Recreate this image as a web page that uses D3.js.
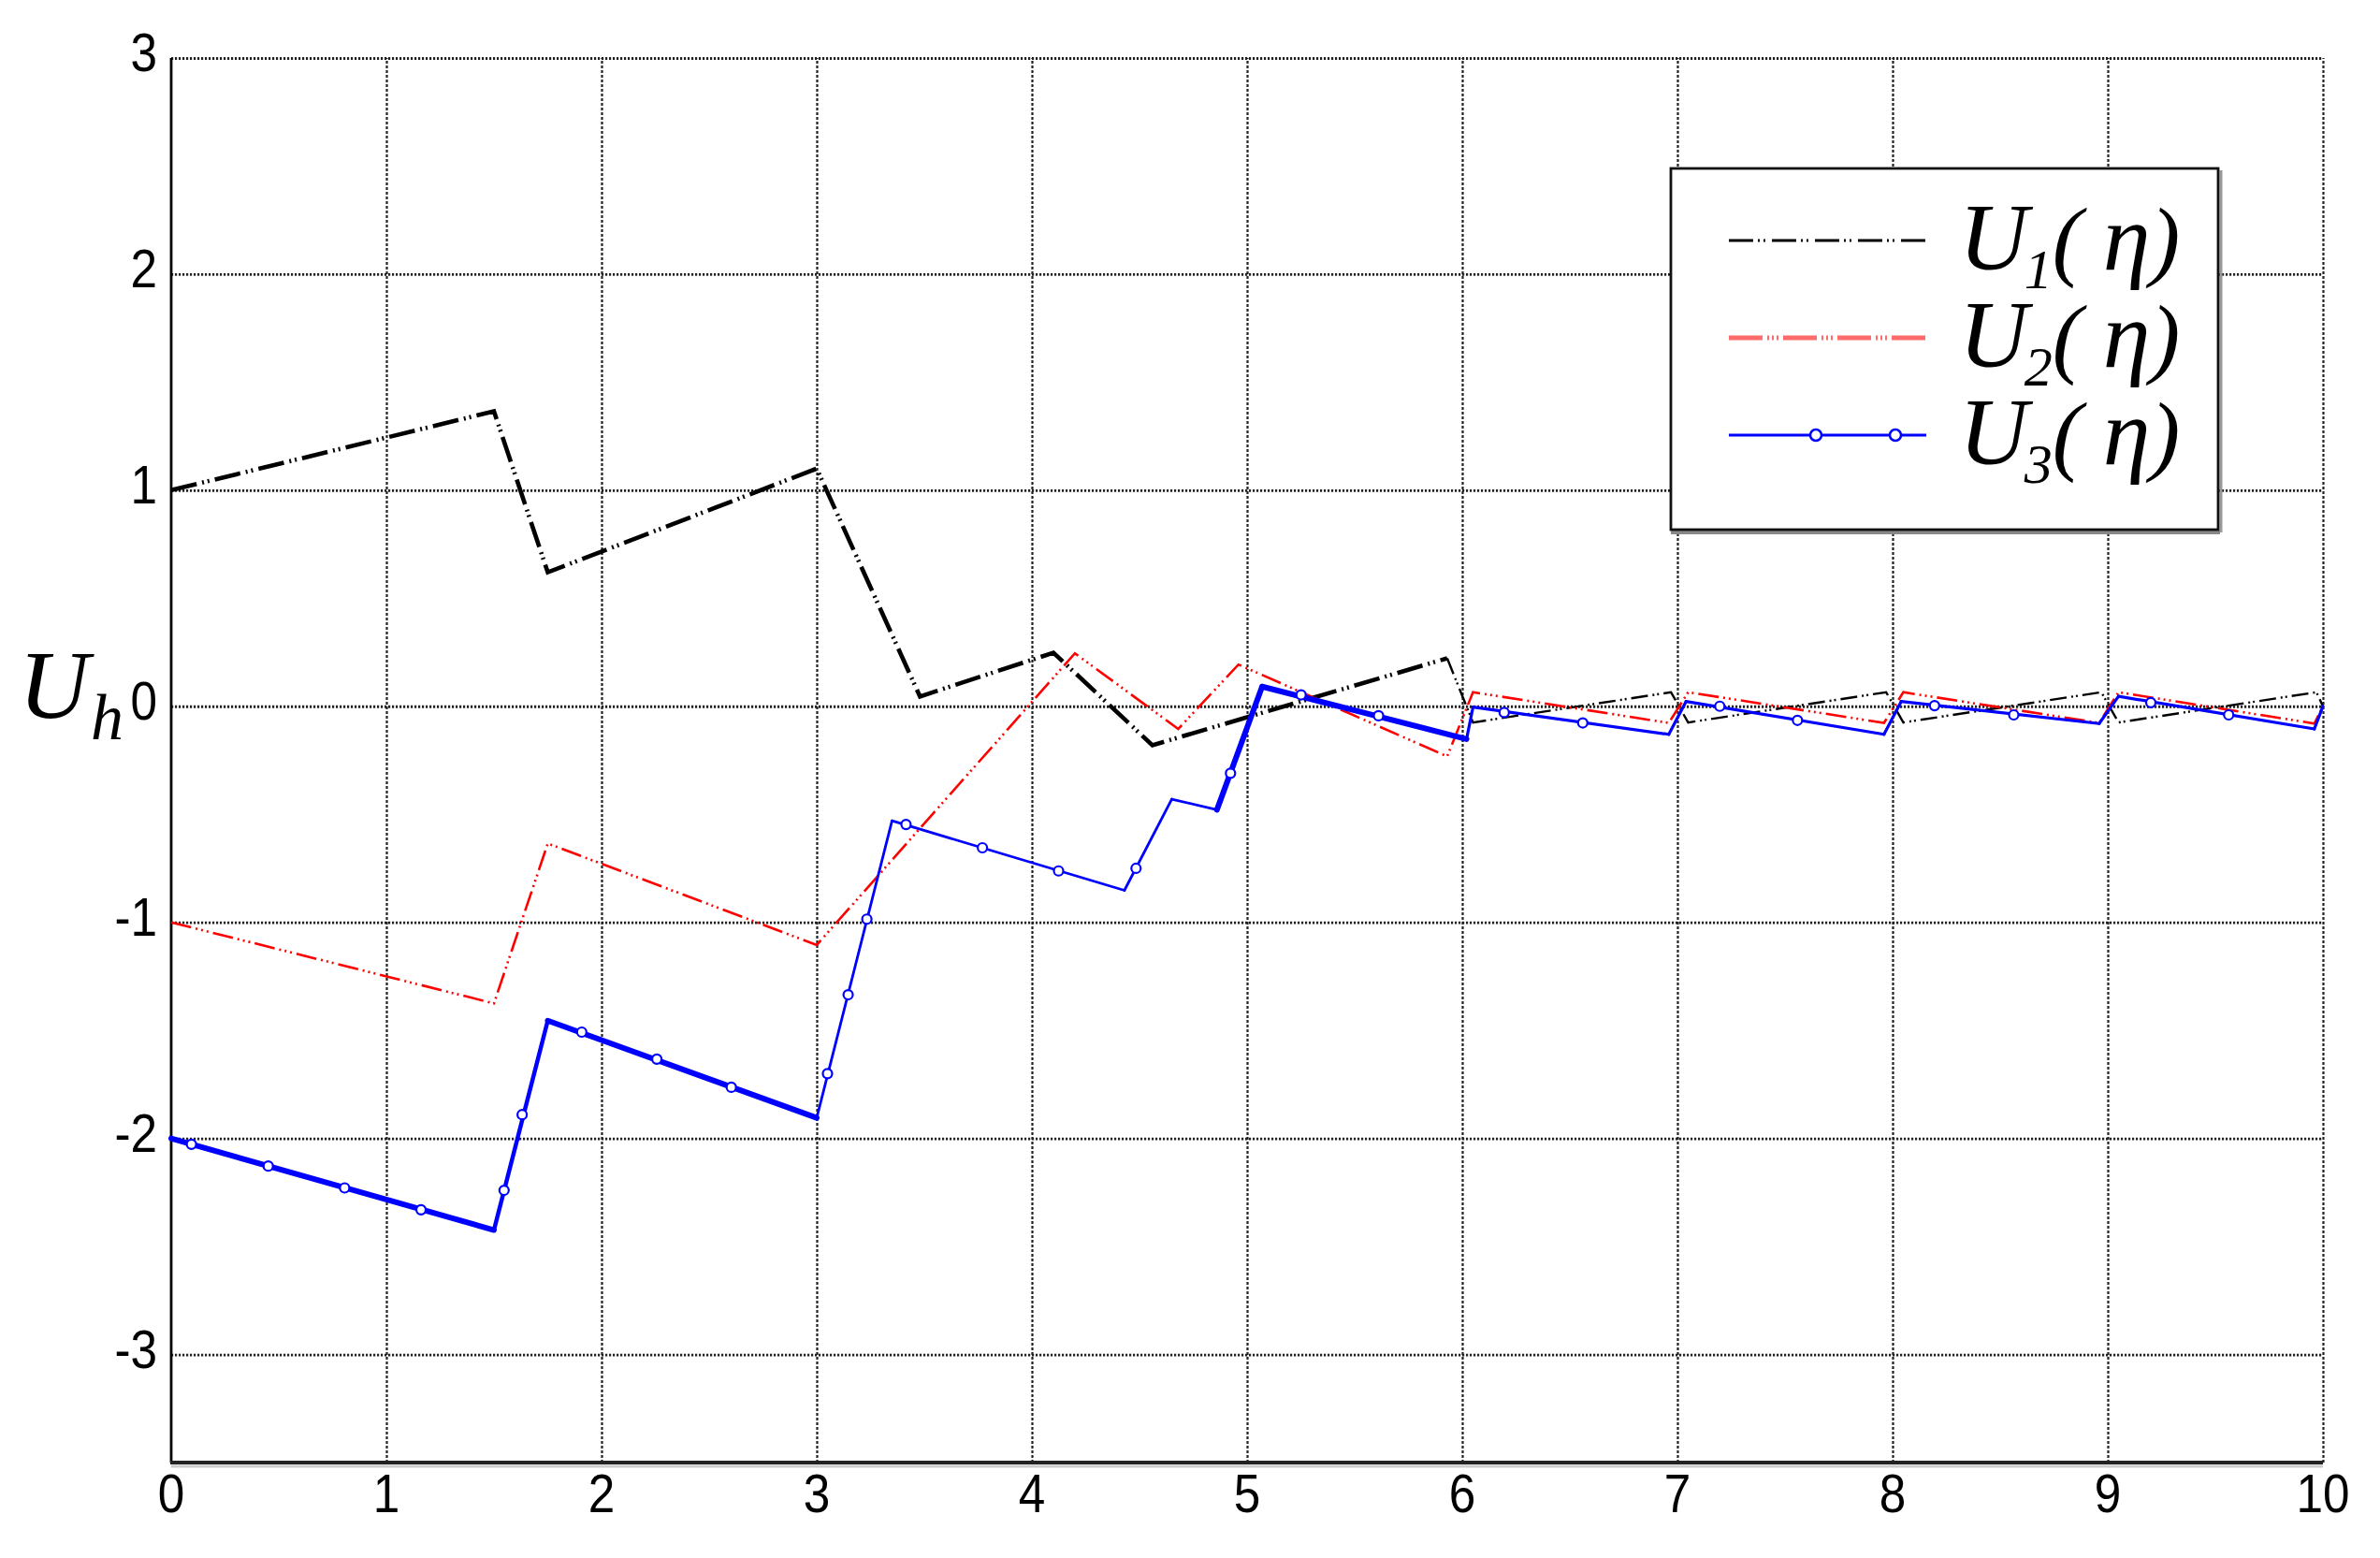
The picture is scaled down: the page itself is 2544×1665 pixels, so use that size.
<!DOCTYPE html>
<html>
<head>
<meta charset="utf-8">
<script src="https://cdn.jsdelivr.net/npm/d3@7"></script>
<style>
  html, body { margin: 0; padding: 0; background: #fff; }
  svg { display: block; }
</style>
</head>
<body>
<svg id="chart" width="2544" height="1665"></svg>
<script>
// ---------------- data ----------------
const xTicks = [0, 1, 2, 3, 4, 5, 6, 7, 8, 9, 10];
const xTickLabels = ["0", "1", "2", "3", "4", "5", "6", "7", "8", "9", "10"];
const yTicks = [-3, -2, -1, 0, 1, 2, 3];
const yTickLabels = ["-3", "-2", "-1", "0", "1", "2", "3"];

const seriesNames = ["U1", "U2", "U3"];

const u1X = [0, 1.5, 1.75, 3.0, 3.48, 4.1, 4.56, 5.93, 6.05, 6.97, 7.05, 7.97, 8.05, 8.97, 9.05, 9.97, 10];
const u1Y = [1.0, 1.365, 0.62, 1.1, 0.045, 0.248, -0.18, 0.222, -0.075, 0.065, -0.075, 0.065, -0.075, 0.065, -0.075, 0.065, 0.0];

const u2X = [0, 1.5, 1.75, 3.0, 4.2, 4.68, 4.96, 5.93, 6.05, 6.96, 7.05, 7.96, 8.05, 8.96, 9.05, 9.96, 10];
const u2Y = [-1.0, -1.375, -0.635, -1.105, 0.245, -0.105, 0.193, -0.232, 0.065, -0.077, 0.065, -0.077, 0.065, -0.077, 0.065, -0.08, 0.0];

const u3X = [0, 1.5, 1.75, 3.0, 3.35, 4.43, 4.65, 4.86, 5.07, 6.02, 6.05, 6.96, 7.04, 7.96, 8.04, 8.96, 9.05, 9.96, 10];
const u3Y = [-2.0, -2.424, -1.455, -1.905, -0.53, -0.852, -0.43, -0.479, 0.091, -0.152, -0.004, -0.13, 0.022, -0.13, 0.022, -0.08, 0.046, -0.105, 0.0];

const u3MarkX = [0.094, 0.451, 0.806, 1.161, 1.547, 1.631, 1.908, 2.257, 2.603, 3.05, 3.146, 3.233, 3.415, 3.77, 4.124, 4.484, 4.923, 5.251, 5.611, 6.195, 6.56, 7.197, 7.558, 8.195, 8.563, 9.2, 9.562];
const u3MarkY = [-2.027, -2.128, -2.229, -2.33, -2.24, -1.89, -1.508, -1.633, -1.763, -1.70, -1.335, -0.985, -0.547, -0.655, -0.762, -0.75, -0.31, 0.053, -0.044, -0.029, -0.077, 0.0, -0.065, 0.003, -0.04, 0.017, -0.04];

// ---------------- setup ----------------
const svg = d3.select("#chart");
const W = 2544, H = 1665;
svg.append("rect").attr("width", W).attr("height", H).attr("fill", "#fff");

const x = d3.scaleLinear().domain([0, 10]).range([183, 2483]);
const y = d3.scaleLinear().domain([-3.5, 3]).range([1563, 62]);

const tickFont = "'Liberation Sans', Arial, sans-serif";
const serif = "'Liberation Serif', 'Times New Roman', 'DejaVu Serif', serif";
const narrow = 0.9;

// ---------------- grid ----------------
const gridV = svg.append("g")
  .attr("transform", `translate(0,${y(-3.5)})`)
  .call(d3.axisBottom(x).tickValues(xTicks.slice(1)).tickSize(-(y(-3.5) - y(3))).tickFormat(""));
gridV.select(".domain").remove();
gridV.selectAll("line").attr("stroke", "#222").attr("stroke-width", 2.2).attr("stroke-dasharray", "3,2");

const gridH = svg.append("g")
  .attr("transform", `translate(${x(0)},0)`)
  .call(d3.axisLeft(y).tickValues(yTicks).tickSize(-(x(10) - x(0))).tickFormat(""));
gridH.select(".domain").remove();
gridH.selectAll("line").attr("stroke", "#222").attr("stroke-width", 2.8).attr("stroke-dasharray", "2.2,1.8");

// ---------------- axes lines ----------------
svg.append("line").attr("x1", x(0)).attr("x2", x(0)).attr("y1", y(3)).attr("y2", y(-3.5))
  .attr("stroke", "#000").attr("stroke-width", 2.8);
svg.append("line").attr("x1", x(0)).attr("x2", x(10)).attr("y1", y(-3.5) + 4).attr("y2", y(-3.5) + 4)
  .attr("stroke", "#ccc").attr("stroke-width", 3);
svg.append("line").attr("x1", x(0) - 1).attr("x2", x(10)).attr("y1", y(-3.5)).attr("y2", y(-3.5))
  .attr("stroke", "#222").attr("stroke-width", 4);

// ---------------- tick labels ----------------
svg.append("g").selectAll("text").data(xTicks).join("text")
  .attr("transform", d => `translate(${x(d)},${y(-3.5) + 53}) scale(${narrow},1)`)
  .attr("text-anchor", "middle")
  .attr("font-family", tickFont).attr("font-size", 57).attr("fill", "#000")
  .text((d, i) => xTickLabels[i]);

svg.append("g").selectAll("text").data(yTicks).join("text")
  .attr("transform", d => `translate(${x(0) - 15},${y(d) + 14}) scale(${narrow},1)`)
  .attr("text-anchor", "end")
  .attr("font-family", tickFont).attr("font-size", 57).attr("fill", "#000")
  .text((d, i) => yTickLabels[i]);

// y label U_h
const yl = svg.append("text").attr("x", 20).attr("y", 767)
  .attr("font-family", serif).attr("font-style", "italic").attr("font-size", 104).attr("fill", "#000");
yl.append("tspan").text("U");
yl.append("tspan").attr("font-size", 70).attr("dy", 23).attr("dx", 2).text("h");

// ---------------- series ----------------
const line = d3.line().x(d => x(d[0])).y(d => y(d[1]));
const zip = (xs, ys) => xs.map((v, i) => [v, ys[i]]);

const p1 = zip(u1X, u1Y);
const p2 = zip(u2X, u2Y);
const p3 = zip(u3X, u3Y);

// U1: black dash-dot-dot; heavier before eta = 6
const split1 = u1X.findIndex(v => v >= 5.9);
svg.append("path").datum(p1.slice(0, split1 + 1)).attr("d", line)
  .attr("fill", "none").attr("stroke", "#000").attr("stroke-width", 4.6)
  .attr("stroke-dasharray", "28,6,2,4,2,6").attr("stroke-linejoin", "miter");
svg.append("path").datum(p1.slice(split1)).attr("d", line)
  .attr("fill", "none").attr("stroke", "#000").attr("stroke-width", 2.4)
  .attr("stroke-dasharray", "18,5,2,3,2,5");

// U2: red dash-dot-dot-dot
svg.append("path").datum(p2).attr("d", line)
  .attr("fill", "none").attr("stroke", "#ff0000").attr("stroke-width", 2.6)
  .attr("stroke-dasharray", "22,5,2,4,2,4,2,5");

// U3: blue solid, width varies by segment
function blueWidth(a, b) {
  const m = (a + b) / 2;
  if (m < 1.5) return 6;
  if (m < 1.75) return 4.5;
  if (m < 3.0) return 6;
  if (m < 4.86) return 2.8;
  if (m < 6.02) return 6;
  return 3.2;
}
const segs = d3.pairs(p3);
svg.append("g").selectAll("path").data(segs).join("path")
  .attr("d", d => line(d))
  .attr("fill", "none").attr("stroke", "#0000ff")
  .attr("stroke-width", d => blueWidth(d[0][0], d[1][0]))
  .attr("stroke-linecap", "round");

svg.append("g").selectAll("circle").data(zip(u3MarkX, u3MarkY)).join("circle")
  .attr("cx", d => x(d[0])).attr("cy", d => y(d[1])).attr("r", 5)
  .attr("fill", "#fff").attr("stroke", "#0000ff").attr("stroke-width", 2.2);

// ---------------- legend ----------------
const lg = svg.append("g");
lg.append("line").attr("x1", 1786).attr("x2", 2373).attr("y1", 569).attr("y2", 569).attr("stroke", "#888").attr("stroke-width", 4);
lg.append("line").attr("x1", 2374).attr("x2", 2374).attr("y1", 182).attr("y2", 569).attr("stroke", "#999").attr("stroke-width", 3);
lg.append("rect").attr("x", 1786).attr("y", 180).attr("width", 585).attr("height", 386)
  .attr("fill", "#fff").attr("stroke", "#111").attr("stroke-width", 2.8);

const legY = [257, 361, 465];
lg.append("line").attr("x1", 1848).attr("x2", 2059).attr("y1", legY[0]).attr("y2", legY[0])
  .attr("stroke", "#000").attr("stroke-width", 3.2).attr("stroke-dasharray", "26,5,2,4,2,7");
lg.append("line").attr("x1", 1848).attr("x2", 2059).attr("y1", legY[1]).attr("y2", legY[1])
  .attr("stroke", "#ff6a6a").attr("stroke-width", 5).attr("stroke-dasharray", "36,5,2,3,2,3,2,5");
lg.append("line").attr("x1", 1848).attr("x2", 2059).attr("y1", legY[2]).attr("y2", legY[2])
  .attr("stroke", "#0000ff").attr("stroke-width", 3.2);
[1941, 2026].forEach(cx => {
  lg.append("circle").attr("cx", cx).attr("cy", legY[2]).attr("r", 6)
    .attr("fill", "#fff").attr("stroke", "#0000ff").attr("stroke-width", 2.5);
});

const subs = ["1", "2", "3"];
subs.forEach((s, i) => {
  const t = lg.append("text").attr("x", 2094).attr("y", legY[i] + 31)
    .attr("font-family", serif).attr("font-style", "italic").attr("font-size", 102).attr("fill", "#000");
  t.append("tspan").text("U");
  t.append("tspan").attr("font-size", 60).attr("dy", 20).attr("dx", -4).text(s);
  t.append("tspan").attr("dy", -20).attr("font-size", 96).text("(");
  t.append("tspan").attr("dx", 22).attr("font-size", 102).text("η");
  t.append("tspan").attr("font-size", 96).text(")");
});
</script>
</body>
</html>
